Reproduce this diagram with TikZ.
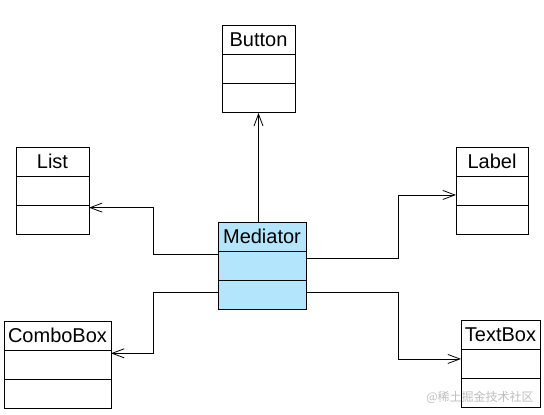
\documentclass[tikz,border=0pt]{standalone}
\usepackage{fontspec}
\setmainfont{Liberation Sans}
\newfontfamily\cjk{Noto Sans CJK SC}
\usetikzlibrary{arrows.meta,positioning}
\definecolor{umledge}{RGB}{0,0,0}
\definecolor{umlmed}{RGB}{179,229,252}
\definecolor{wmark}{RGB}{190,190,190}
\tikzset{
  row/.style={
    draw=umledge, line width=1pt, fill=white, outer sep=0pt,
    minimum height=29.3pt, inner sep=0pt
  },
  title/.style={row, anchor=north west, font=\fontsize{20}{22}\selectfont},
  med/.style={fill=umlmed},
  arr/.style={-{Straight Barb[length=12pt,width=9pt,line width=0.8pt]}, draw=umledge, line width=0.8pt},
  every picture/.append style={line join=miter}
}
\begin{document}
\begin{tikzpicture}[x=1pt, y=-1pt, node distance=0pt]
  \useasboundingbox (0,0) rectangle (544,415);
  % classes
  \node[title, minimum width=73pt] (btn1) at (222,25) {Button};
  \node[row, minimum width=73pt, below=of btn1] (btn2) {};
  \node[row, minimum width=73pt, below=of btn2] (btn3) {};

  \node[title, minimum width=73pt] (lst1) at (16,147) {List};
  \node[row, minimum width=73pt, below=of lst1] (lst2) {};
  \node[row, minimum width=73pt, below=of lst2] (lst3) {};

  \node[title, minimum width=72pt] (lbl1) at (456,147) {Label};
  \node[row, minimum width=72pt, below=of lbl1] (lbl2) {};
  \node[row, minimum width=72pt, below=of lbl2] (lbl3) {};

  \node[title, med, minimum width=88pt] (med1) at (218,222) {Mediator};
  \node[row, med, minimum width=88pt, below=of med1] (med2) {};
  \node[row, med, minimum width=88pt, below=of med2] (med3) {};

  \node[title, minimum width=107pt] (cbx1) at (4,321) {ComboBox};
  \node[row, minimum width=107pt, below=of cbx1] (cbx2) {};
  \node[row, minimum width=107pt, below=of cbx2] (cbx3) {};

  \node[title, minimum width=79pt] (tbx1) at (461,320) {TextBox};
  \node[row, minimum width=79pt, below=of tbx1] (tbx2) {};
  \node[row, minimum width=79pt, below=of tbx2] (tbx3) {};

  % links
  \draw[arr] (med1.north -| btn3.south) -- (btn3.south);
  \draw[arr] ([yshift=-3pt]med2.north west) -- ++(-65,0) |- ([yshift=-2pt]lst3.north east);
  \draw[arr] ([yshift=3pt]med3.west) -- ++(-65,0) |- ([yshift=-3pt]cbx2.north east);
  \draw[arr] ([yshift=-7pt]med2.north east) -- ++(92,0) |- ([yshift=-4pt]lbl2.west);
  \draw[arr] ([yshift=3pt]med3.east) -- ++(92,0) |- ([yshift=5pt]tbx2.west);

  \node[text=wmark, font=\cjk\fontsize{12}{14}\selectfont] (wm) at (480,397) {@稀土掘金技术社区};
\end{tikzpicture}
\end{document}
